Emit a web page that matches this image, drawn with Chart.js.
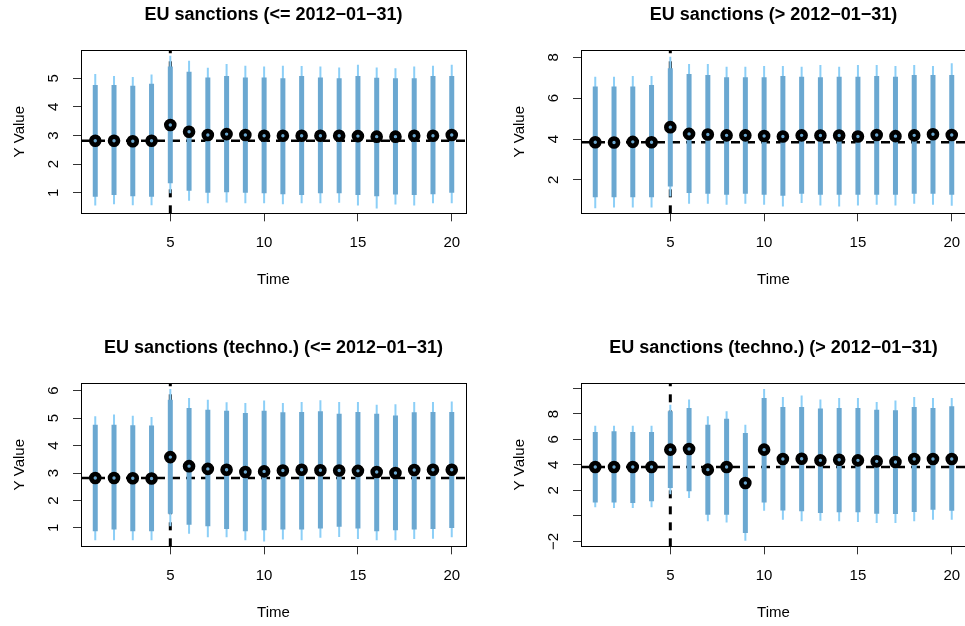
<!DOCTYPE html>
<html>
<head>
<meta charset="utf-8">
<script src="https://cdn.jsdelivr.net/npm/chart.js@4.4.1/dist/chart.umd.min.js"></script>
<style>
  html, body { margin: 0; padding: 0; background: #fff; width: 965px; height: 626px; overflow: hidden; }
  .panel { position: absolute; width: 500px; height: 334px; }
</style>
</head>
<body>
<div class="panel" style="left:0;top:0"><canvas id="p1" width="500" height="334"></canvas></div>
<div class="panel" style="left:500px;top:0"><canvas id="p2" width="500" height="334"></canvas></div>
<div class="panel" style="left:0;top:333px"><canvas id="p3" width="500" height="334"></canvas></div>
<div class="panel" style="left:500px;top:333px"><canvas id="p4" width="500" height="334"></canvas></div>
<script>
// time points and x axis (R style: 4% padding around 1..20)
const TIME = [1, 2, 3, 4, 5, 6, 7, 8, 9, 10, 11, 12, 13, 14, 15, 16, 17, 18, 19, 20];
const X_LIM = [0.24, 20.76];
const X_TICKS = [5, 10, 15, 20];
const EVENT_TIME = 5;

// panel 1: EU sanctions (<= 2012-01-31)
const P1_MEAN = [2.82, 2.82, 2.80, 2.82, 3.37, 3.13, 3.02, 3.05, 3.02, 2.99, 2.99, 2.99, 2.99, 2.99, 2.98, 2.96, 2.96, 2.99, 2.99, 3.02];
const P1_IN_HI = [4.77, 4.77, 4.74, 4.81, 5.41, 5.23, 5.03, 5.08, 5.03, 5.03, 5.00, 5.08, 5.03, 5.00, 5.08, 5.02, 5.00, 5.00, 5.08, 5.08];
const P1_IN_LO = [0.86, 0.92, 0.88, 0.86, 1.33, 1.07, 1.00, 1.02, 1.00, 0.98, 0.95, 0.92, 0.98, 0.98, 0.92, 0.88, 0.94, 0.92, 0.95, 1.00];
const P1_OUT_HI = [5.15, 5.08, 5.05, 5.13, 5.79, 5.61, 5.37, 5.50, 5.44, 5.41, 5.44, 5.43, 5.41, 5.38, 5.47, 5.38, 5.35, 5.41, 5.44, 5.47];
const P1_OUT_LO = [0.55, 0.60, 0.56, 0.56, 0.98, 0.72, 0.63, 0.66, 0.63, 0.63, 0.60, 0.63, 0.63, 0.65, 0.55, 0.45, 0.59, 0.55, 0.63, 0.63];

// panel 2: EU sanctions (> 2012-01-31)
const P2_MEAN = [3.84, 3.83, 3.86, 3.84, 4.58, 4.25, 4.22, 4.18, 4.18, 4.15, 4.12, 4.18, 4.17, 4.17, 4.12, 4.20, 4.14, 4.18, 4.23, 4.20];
const P2_IN_HI = [6.57, 6.57, 6.57, 6.65, 7.46, 7.19, 7.14, 7.02, 7.02, 7.02, 7.09, 7.05, 7.02, 7.05, 7.05, 7.09, 7.05, 7.14, 7.14, 7.14];
const P2_IN_LO = [1.15, 1.15, 1.15, 1.15, 1.67, 1.35, 1.32, 1.27, 1.32, 1.27, 1.22, 1.32, 1.27, 1.27, 1.27, 1.27, 1.27, 1.32, 1.32, 1.27];
const P2_OUT_HI = [7.05, 7.05, 7.09, 7.09, 8.03, 7.67, 7.67, 7.54, 7.54, 7.58, 7.58, 7.54, 7.63, 7.54, 7.63, 7.63, 7.58, 7.63, 7.58, 7.71];
const P2_OUT_LO = [0.61, 0.65, 0.65, 0.65, 1.18, 0.83, 0.83, 0.78, 0.83, 0.78, 0.70, 0.86, 0.74, 0.70, 0.74, 0.78, 0.74, 0.83, 0.78, 0.73];

// panel 3: EU sanctions (techno.) (<= 2012-01-31)
const P3_MEAN = [2.82, 2.82, 2.81, 2.80, 3.58, 3.25, 3.15, 3.12, 3.04, 3.06, 3.09, 3.12, 3.10, 3.09, 3.08, 3.04, 3.00, 3.11, 3.12, 3.12];
const P3_IN_HI = [4.76, 4.76, 4.74, 4.73, 5.67, 5.37, 5.31, 5.27, 5.19, 5.27, 5.21, 5.22, 5.25, 5.16, 5.22, 5.16, 5.10, 5.21, 5.22, 5.22];
const P3_IN_LO = [0.88, 0.94, 0.88, 0.88, 1.52, 1.12, 1.06, 0.96, 0.88, 0.92, 0.94, 0.94, 0.98, 1.04, 0.98, 0.88, 0.92, 0.94, 0.96, 1.00];
const P3_OUT_HI = [5.07, 5.13, 5.09, 5.04, 6.06, 5.73, 5.67, 5.58, 5.55, 5.64, 5.55, 5.59, 5.65, 5.59, 5.59, 5.49, 5.51, 5.59, 5.59, 5.61];
const P3_OUT_LO = [0.55, 0.55, 0.55, 0.55, 1.06, 0.79, 0.66, 0.66, 0.55, 0.51, 0.58, 0.55, 0.64, 0.67, 0.60, 0.55, 0.55, 0.60, 0.61, 0.66];

// panel 4: EU sanctions (techno.) (> 2012-01-31)
const P4_MEAN = [3.84, 3.84, 3.84, 3.84, 5.20, 5.25, 3.63, 3.84, 2.58, 5.20, 4.47, 4.49, 4.36, 4.41, 4.36, 4.28, 4.23, 4.47, 4.47, 4.47];
const P4_IN_HI = [6.59, 6.64, 6.59, 6.59, 8.21, 8.47, 7.16, 7.63, 6.51, 9.26, 8.55, 8.55, 8.42, 8.47, 8.47, 8.34, 8.29, 8.55, 8.47, 8.60];
const P4_IN_LO = [1.06, 1.06, 1.01, 1.14, 2.19, 1.93, 0.09, 0.09, -1.35, 1.06, 0.43, 0.36, 0.23, 0.28, 0.28, 0.17, 0.15, 0.30, 0.49, 0.41];
const P4_OUT_HI = [7.08, 7.08, 7.08, 7.08, 8.73, 9.13, 7.82, 8.21, 7.16, 9.96, 9.34, 9.44, 9.13, 9.26, 9.26, 8.94, 9.05, 9.34, 9.26, 9.26];
const P4_OUT_LO = [0.67, 0.62, 0.62, 0.67, 1.70, 1.40, -0.43, -0.51, -1.95, 0.41, -0.30, -0.43, -0.38, -0.43, -0.48, -0.56, -0.56, -0.43, -0.30, -0.30];

// pre-period baselines (horizontal dashed lines)
const BASELINES = [2.82, 3.84, 2.82, 3.84];

// y axis ranges, ticks and tick labels per panel
const Y_LIMS = [[0.28, 5.99], [0.36, 8.36], [0.33, 6.28], [-2.39, 10.43]];
const Y_TICKS_1 = [1, 2, 3, 4, 5];
const Y_LABELS_1 = ['1', '2', '3', '4', '5'];
const Y_TICKS_2 = [2, 4, 6, 8];
const Y_LABELS_2 = ['2', '4', '6', '8'];
const Y_TICKS_3 = [1, 2, 3, 4, 5, 6];
const Y_LABELS_3 = ['1', '2', '3', '4', '5', '6'];
const Y_TICKS_4 = [-2, 0, 2, 4, 6, 8, 10];
const Y_LABELS_4 = ['\u22122', '', '2', '4', '6', '8', ''];

const TITLES = [
  'EU sanctions (<= 2012\u221201\u221231)',
  'EU sanctions (> 2012\u221201\u221231)',
  'EU sanctions (techno.) (<= 2012\u221201\u221231)',
  'EU sanctions (techno.) (> 2012\u221201\u221231)'
];

const FONT = '"Liberation Sans", Arial, Helvetica, sans-serif';
const THICK_COLOR = '#6ba8d1';
const THIN_COLOR = '#8ccff7';

Chart.defaults.font.family = FONT;
Chart.defaults.font.size = 15;
Chart.defaults.color = '#000';

const plotBox = {
  id: 'plotBox',
  afterDraw(chart) {
    const { ctx, chartArea: a } = chart;
    ctx.save();
    ctx.strokeStyle = '#000';
    ctx.lineWidth = 1;
    ctx.strokeRect(Math.round(a.left) + 0.5, Math.round(a.top) + 0.5,
      Math.round(a.right - a.left), Math.round(a.bottom - a.top));
    ctx.restore();
  }
};

// rotated y labels are centred on one line, whatever their width
function yTickPadding(labels) {
  const ctx = document.createElement('canvas').getContext('2d');
  ctx.font = '15px ' + FONT;
  const w = Math.max(...labels.map(l => ctx.measureText(l).width));
  return 19 - w / 2;
}

function makePanel(id, title, mean, inLo, inHi, outLo, outHi, base, yLim, yTicks, yLabels) {
  new Chart(document.getElementById(id), {
    type: 'scatter',
    data: {
      datasets: [
        {
          type: 'scatter',
          data: TIME.map((t, i) => ({ x: t, y: mean[i] })),
          pointRadius: 4, pointBorderWidth: 4.6,
          pointBorderColor: '#000', pointBackgroundColor: 'rgba(0,0,0,0)'
        },
        {
          type: 'bar',
          data: TIME.map((t, i) => ({ x: t, y: [inLo[i], inHi[i]] })),
          backgroundColor: THICK_COLOR, grouped: false, maxBarThickness: 5
        },
        {
          type: 'bar',
          data: TIME.map((t, i) => ({ x: t, y: [outLo[i], outHi[i]] })),
          backgroundColor: THIN_COLOR, grouped: false, maxBarThickness: 2
        },
        {
          type: 'line',
          data: [{ x: EVENT_TIME, y: yLim[0] }, { x: EVENT_TIME, y: yLim[1] }],
          borderColor: '#000', borderWidth: 3, borderDash: [8, 8], pointRadius: 0
        },
        {
          type: 'line',
          data: [{ x: X_LIM[0], y: base }, { x: X_LIM[1], y: base }],
          borderColor: '#000', borderWidth: 2.5, borderDash: [9, 6], pointRadius: 0
        }
      ]
    },
    options: {
      responsive: false,
      animation: false,
      events: [],
      layout: { padding: { left: 0, right: 34, top: 0, bottom: 0 } },
      plugins: {
        legend: { display: false },
        tooltip: { enabled: false },
        title: {
          display: true, text: title, fullSize: false,
          font: { size: 18, weight: 'bold' },
          padding: { top: 4, bottom: 24.4 }
        }
      },
      scales: {
        x: {
          type: 'linear', min: X_LIM[0], max: X_LIM[1], offset: false,
          afterBuildTicks: s => { s.ticks = X_TICKS.map(v => ({ value: v })); },
          afterFit: s => { s.height = 334 - 213.33; },
          grid: { offset: false, drawOnChartArea: false, drawTicks: true, tickLength: 8, color: '#333' },
          border: { display: false },
          ticks: { padding: 13, maxRotation: 0, autoSkip: false, callback: v => String(v) },
          title: { display: true, text: 'Time', padding: { top: 0, bottom: 45 } }
        },
        y: {
          type: 'linear', min: yLim[0], max: yLim[1],
          afterBuildTicks: s => { s.ticks = yTicks.map(v => ({ value: v })); },
          afterFit: s => { s.width = 81; },
          grid: { drawOnChartArea: false, drawTicks: true, tickLength: 8, color: '#333' },
          border: { display: false },
          ticks: {
            minRotation: 90, maxRotation: 90, crossAlign: 'center',
            padding: yTickPadding(yLabels), autoSkip: false,
            callback: (v, i) => yLabels[i]
          },
          title: { display: true, text: 'Y Value', padding: { top: 11, bottom: 0 } }
        }
      }
    },
    plugins: [plotBox]
  });
}

makePanel('p1', TITLES[0], P1_MEAN, P1_IN_LO, P1_IN_HI, P1_OUT_LO, P1_OUT_HI, BASELINES[0], Y_LIMS[0], Y_TICKS_1, Y_LABELS_1);
makePanel('p2', TITLES[1], P2_MEAN, P2_IN_LO, P2_IN_HI, P2_OUT_LO, P2_OUT_HI, BASELINES[1], Y_LIMS[1], Y_TICKS_2, Y_LABELS_2);
makePanel('p3', TITLES[2], P3_MEAN, P3_IN_LO, P3_IN_HI, P3_OUT_LO, P3_OUT_HI, BASELINES[2], Y_LIMS[2], Y_TICKS_3, Y_LABELS_3);
makePanel('p4', TITLES[3], P4_MEAN, P4_IN_LO, P4_IN_HI, P4_OUT_LO, P4_OUT_HI, BASELINES[3], Y_LIMS[3], Y_TICKS_4, Y_LABELS_4);
</script>
</body>
</html>
